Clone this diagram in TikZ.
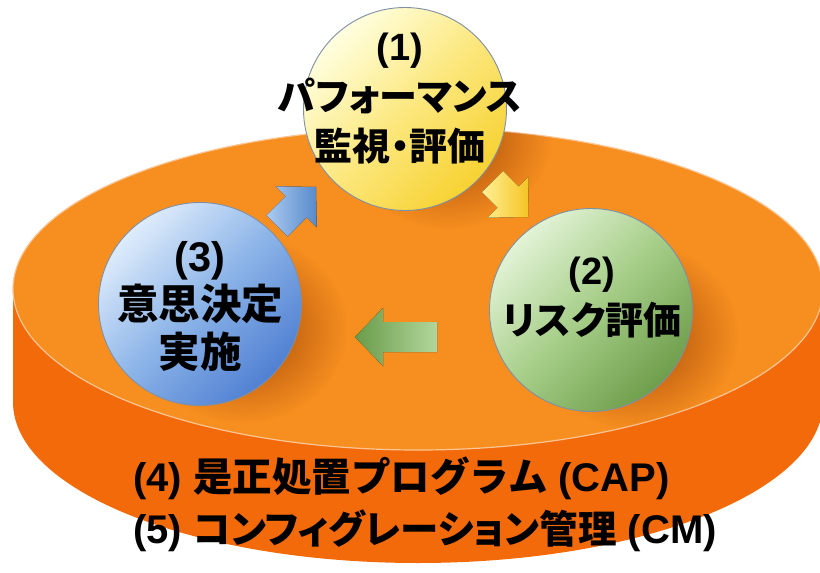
\documentclass[tikz,border=0pt]{standalone}
\usepackage{fontspec}
\setmainfont{Liberation Sans}
\newfontfamily\jp{Noto Sans CJK JP Bold}[RawFeature=+palt]
\newfontfamily\jpw{Noto Sans CJK JP Bold}
\usetikzlibrary{fadings}
\definecolor{topcol}{HTML}{F78F20}
\definecolor{sidecol}{HTML}{F36A0B}
\definecolor{rimcol}{HTML}{FBC594}
\definecolor{shadowcol}{HTML}{9A4006}
\definecolor{ringcol}{HTML}{7F8FA6}
\tikzfading[name=softshadow, inner color=transparent!10, outer color=transparent!100]
\tikzset{
  ball/.style={circle, draw=ringcol, line width=0.9pt, minimum size=203pt, inner sep=0pt},
  lbl/.style={align=center, inner sep=0pt, text=black, font=\bfseries\fontsize{38}{50}\selectfont},
  lblbig/.style={align=center, inner sep=0pt, text=black, font=\bfseries\fontsize{41.5}{48}\selectfont},
  bottomlbl/.style={anchor=west, inner sep=0pt, text=black, font=\bfseries\fontsize{40}{44}\selectfont},
  shadowblob/.style={fill=shadowcol, path fading=softshadow},
}
\newcommand\J[1]{{\jp #1}}
\newcommand\W[1]{{\jpw\fontsize{39.5}{44}\selectfont #1}}
\newcommand\Jn[1]{{\jp\fontsize{38.5}{44}\selectfont #1}}
\begin{document}
\begin{tikzpicture}[x=1pt,y=1pt]
\useasboundingbox (0,0) rectangle (820,-573);
\begin{scope}
  \clip (0,0) rectangle (820,-573);
  % cylinder side
  \fill[sidecol] (13,-289) -- (13,-402)
     arc[start angle=180, end angle=360, x radius=405, y radius=161]
     -- (823,-289) -- cycle;
  % top face
  \fill[topcol] (418,-289) ellipse[x radius=405, y radius=161];
  \draw[rimcol, line width=1.2pt] (418,-289) ellipse[x radius=405, y radius=161];
  % shadows on the top face
  \begin{scope}
    \clip (418,-289) ellipse[x radius=405, y radius=161];
    \fill[shadowblob] (448,-135) ellipse[x radius=105, y radius=95];
    \fill[shadowblob] (634,-335) ellipse[x radius=105, y radius=95];
    \fill[shadowblob] (243,-329) ellipse[x radius=105, y radius=95];
  \end{scope}
\end{scope}

% circles
\node[ball, top color=white!60!yellow!30, bottom color={rgb,255:red,247;green,210;blue,50},
      middle color={rgb,255:red,252;green,232;blue,128}, shading angle=45] (c1) at (405,-109) {};
\node[ball, top color={rgb,255:red,226;green,243;blue,214}, bottom color={rgb,255:red,110;green,158;blue,75},
      middle color={rgb,255:red,165;green,205;blue,135}, shading angle=45] (c2) at (591,-310) {};
\node[ball, top color={rgb,255:red,222;green,236;blue,251}, bottom color={rgb,255:red,80;green,128;blue,210},
      middle color={rgb,255:red,140;green,180;blue,232}, shading angle=45] (c3) at (200,-304) {};

% block arrows
\fill[left color={rgb,255:red,170;green,202;blue,240}, right color={rgb,255:red,88;green,138;blue,203}]
  (316,-187) -- (275.7,-186.3) -- (285.6,-196.2) -- (266.5,-215.3) -- (287.7,-236.5)
  -- (306.8,-217.4) -- (316.7,-227.3) -- cycle;
\fill[left color={rgb,255:red,255;green,240;blue,150}, right color={rgb,255:red,245;green,196;blue,35}]
  (528,-217) -- (528.7,-176.7) -- (518.8,-186.6) -- (503.2,-171.0) -- (482.0,-192.2)
  -- (497.6,-207.8) -- (487.7,-217.7) -- cycle;
\fill[left color={rgb,255:red,105;green,156;blue,74}, right color={rgb,255:red,178;green,214;blue,155}]
  (355,-337) -- (383,-308) -- (383,-322) -- (437,-322) -- (437,-352) -- (383,-352) -- (383,-366) -- cycle;

% texts
\node[lbl] (t1) at (400,-99) {(1)\\\J{パフォーマンス}\\\J{監視・評価}};
\node[lbl] (t2) at (592,-298) {(2)\\\J{リスク評価}};
\node[lblbig] (t3) at (200,-306) {(3)\\\J{意思決定}\\\J{実施}};
\node[bottomlbl] (b4) at (133,-478) {(4) \W{是正処置プログラム} (CAP)};
\node[bottomlbl] (b5) at (133,-531) {(5) \Jn{コンフィグレーション管理} (CM)};
\end{tikzpicture}
\end{document}
